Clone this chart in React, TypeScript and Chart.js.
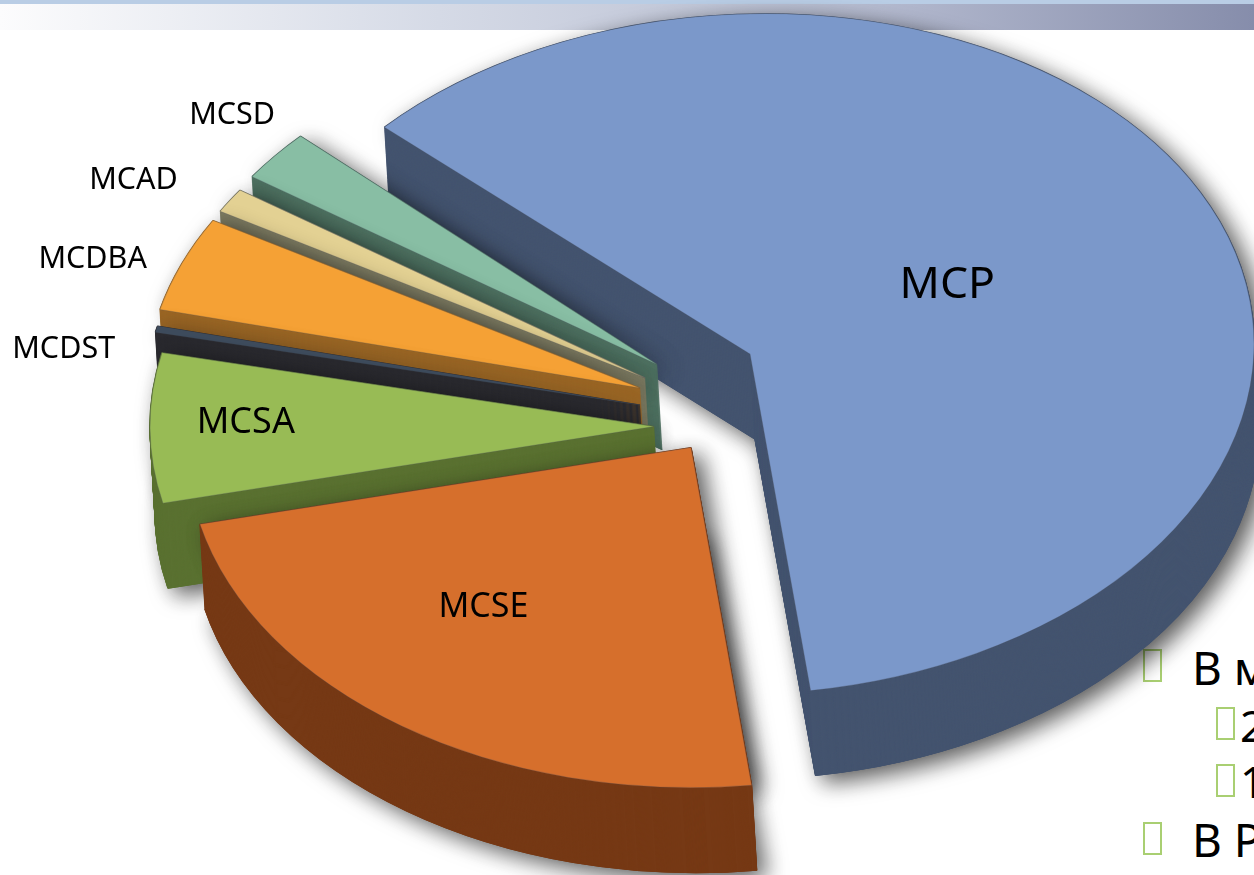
import React, { useEffect, useRef } from "react";
import { Chart, registerables } from "chart.js";

Chart.register(...registerables);

const categories = ["MCP", "MCSE", "MCSA", "MCDST", "MCDBA", "MCAD", "MCSD"];
const shares = [61, 23.3, 7.1, 0.3, 4.6, 1.2, 2.5];

const faceColors = ["#7B98CA", "#D66F2C", "#98BB55", "#3D4B5C", "#F5A135", "#E3D193", "#88BEA4"];
const wallColors = ["#44546F", "#763915", "#5A7131", "#2B2B30", "#9B6726", "#7E7C63", "#4F7262"];
const explodeX = [123, 64, 27, 13, 13, 18, 30];
const explodeY = [-83.5, 10, -11, -32.5, -49.5, -59.5, -73];
const sliceScale = [1, 1, 1, 0.985, 0.98, 0.975, 0.975];
const sliceTilt = [-0.02, 0, 0, 0, 0, 0, 0];
const paintOrder = [0, 6, 5, 4, 3, 2, 1];
const labelDistance = [0.44, 0.625, 0.81, 1.155, 1.15, 1.17, 1.117];
const labelTurnDeg = [-0.5, 6.2, 1, -5, -2.7, -2.5, 2];
const labelFontPx = [44.5, 34, 36, 30.5, 30.5, 30.5, 30.5];

const SQUASH = 0.675;
const DEPTH = 85;
const WALL_SLANT = 0.06;
const RADIUS = 504;
const FONT = '"Noto Sans", sans-serif';

const pie3d = {
  id: "pie3d",
  beforeDatasetDraw(chart: any) {
    const ctx = chart.ctx as CanvasRenderingContext2D;
    const arcs = chart.getDatasetMeta(0).data as any[];
    const paint = (i: number, lift: number, options: any, shadow: boolean) => {
      const arc = arcs[i];
      const saved = arc.options;
      arc.options = Object.assign({}, saved, options);
      ctx.save();
      if (shadow) {
        ctx.shadowColor = "rgba(0,0,0,0.65)";
        ctx.shadowBlur = 22;
        ctx.shadowOffsetX = 9;
        ctx.shadowOffsetY = 7;
      }
      ctx.translate(arc.x + explodeX[i] + lift * WALL_SLANT, arc.y + explodeY[i] + lift);
      ctx.transform(sliceScale[i], sliceTilt[i], 0, SQUASH * sliceScale[i], 0, 0);
      ctx.translate(-arc.x, -arc.y);
      arc.draw(ctx);
      ctx.restore();
      arc.options = saved;
    };
    for (const i of paintOrder) {
      const wall = { backgroundColor: wallColors[i], borderColor: wallColors[i], borderWidth: 1.5 };
      paint(i, DEPTH, wall, true);
      paint(i, 0, wall, true);
      for (let d = DEPTH; d > 0; d -= 1) {
        paint(i, d, wall, false);
      }
      paint(i, 0, { backgroundColor: faceColors[i], borderColor: "rgba(70,75,90,0.3)", borderWidth: 1 }, false);
    }
    return false;
  },
  afterDatasetsDraw(chart: any) {
    const ctx = chart.ctx as CanvasRenderingContext2D;
    const arcs = chart.getDatasetMeta(0).data as any[];
    ctx.save();
    ctx.fillStyle = "#000";
    ctx.textAlign = "center";
    ctx.textBaseline = "middle";
    categories.forEach((name, i) => {
      const arc = arcs[i];
      const mid = (arc.startAngle + arc.endAngle) / 2 + (labelTurnDeg[i] * Math.PI) / 180;
      const r = arc.outerRadius * labelDistance[i];
      ctx.font = `${labelFontPx[i]}px ${FONT}`;
      ctx.fillText(
        name,
        arc.x + explodeX[i] + Math.cos(mid) * r,
        arc.y + explodeY[i] + Math.sin(mid) * r * SQUASH
      );
    });
    ctx.restore();
  },
};

const box = (left: number, top: number): React.CSSProperties => ({
  position: "absolute",
  left,
  top,
  width: 15,
  height: 29,
  border: "2.5px solid #A9CF72",
});

const line = (left: number, top: number, size: number): React.CSSProperties => ({
  position: "absolute",
  left,
  top,
  fontFamily: FONT,
  fontSize: size,
  lineHeight: "60px",
  color: "#000",
  whiteSpace: "nowrap",
});

export default function App() {
  const ref = useRef<HTMLCanvasElement>(null);
  useEffect(() => {
    const chart = new Chart(ref.current as HTMLCanvasElement, {
      type: "pie",
      data: {
        labels: categories,
        datasets: [{ data: shares, backgroundColor: faceColors, borderWidth: 0 }],
      },
      options: {
        animation: false,
        responsive: false,
        rotation: -46.5,
        radius: RADIUS,
        layout: { padding: 0 },
        plugins: { legend: { display: false }, tooltip: { enabled: false } },
      },
      plugins: [pie3d],
    } as any);
    return () => chart.destroy();
  }, []);

  return (
    <div style={{ position: "fixed", left: 0, top: 0, width: 1254, height: 875, overflow: "hidden", background: "#fff" }}>
      <div style={{ position: "absolute", left: 0, top: 0, width: 1254, height: 30, background: "linear-gradient(90deg,#FCFCFD 0%,#D5DAE6 35%,#B4BACF 70%,#868DAB 100%)" }} />
      <div style={{ position: "absolute", left: 0, top: 0, width: 1254, height: 4, background: "#B9CDE5" }} />
      <div style={box(1143, 649)} />
      <div style={line(1192, 637, 46)}>В м</div>
      <div style={box(1216, 707)} />
      <div style={line(1240, 695, 44)}>2</div>
      <div style={box(1216, 764)} />
      <div style={line(1240, 751, 44)}>1</div>
      <div style={box(1143, 822)} />
      <div style={line(1192, 809, 46)}>В Р</div>
      <canvas ref={ref} width={1254} height={875} style={{ position: "absolute", left: 0, top: 0, display: "block", filter: "blur(0.5px)" }} />
    </div>
  );
}
